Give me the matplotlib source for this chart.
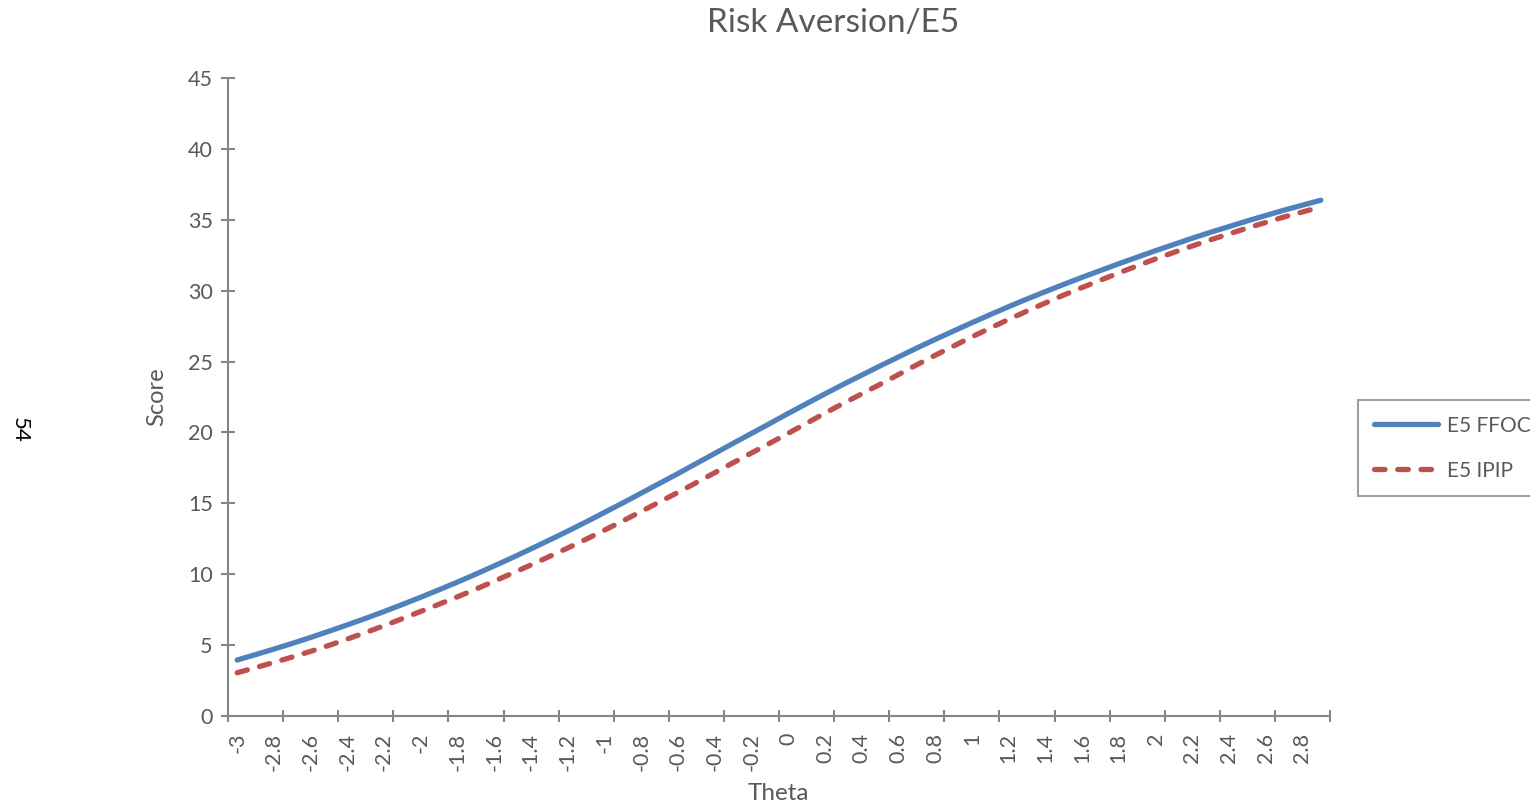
import matplotlib
matplotlib.use("Agg")
import matplotlib.pyplot as plt
import numpy as np

theta = [round(-3 + 0.1 * i, 1) for i in range(60)]
tick_labels = ["-3", "-2.8", "-2.6", "-2.4", "-2.2", "-2", "-1.8", "-1.6", "-1.4", "-1.2",
               "-1", "-0.8", "-0.6", "-0.4", "-0.2", "0", "0.2", "0.4", "0.6", "0.8",
               "1", "1.2", "1.4", "1.6", "1.8", "2", "2.2", "2.4", "2.6", "2.8"]

e5_ffoci = [3.95, 4.33, 4.72, 5.12, 5.54, 5.98, 6.43, 6.89, 7.37, 7.87,
            8.38, 8.91, 9.45, 10.01, 10.59, 11.18, 11.79, 12.41, 13.04, 13.69,
            14.36, 15.03, 15.72, 16.41, 17.10, 17.81, 18.52, 19.23, 19.93, 20.63,
            21.34, 22.03, 22.72, 23.39, 24.04, 24.69, 25.32, 25.95, 26.56, 27.15,
            27.74, 28.31, 28.87, 29.41, 29.93, 30.44, 30.94, 31.42, 31.90, 32.36,
            32.82, 33.26, 33.70, 34.12, 34.52, 34.92, 35.30, 35.68, 36.03, 36.38]

e5_ipip = [3.05, 3.41, 3.78, 4.16, 4.56, 4.98, 5.43, 5.89, 6.37, 6.87,
           7.38, 7.89, 8.41, 8.95, 9.51, 10.08, 10.66, 11.25, 11.85, 12.47,
           13.11, 13.76, 14.43, 15.10, 15.77, 16.46, 17.16, 17.86, 18.55, 19.24,
           19.94, 20.65, 21.36, 22.05, 22.72, 23.39, 24.08, 24.77, 25.44, 26.09,
           26.74, 27.36, 27.97, 28.56, 29.13, 29.69, 30.22, 30.74, 31.25, 31.75,
           32.24, 32.70, 33.15, 33.59, 34.00, 34.42, 34.81, 35.20, 35.55, 35.91]

yticks = [0, 5, 10, 15, 20, 25, 30, 35, 40, 45]

plt.rcParams['font.family'] = ['Lato', 'DejaVu Sans']
TXT = '#595959'
AX = '#868686'

fig = plt.figure(figsize=(15.3, 8.09), dpi=100)
ax = fig.add_axes([228/1530, 1-716/809, (1330-228)/1530, (716-78)/809])

idx = np.arange(len(theta))
ax.plot(idx, e5_ffoci, color='#4F81BD', lw=3.8, solid_capstyle='round', label='E5 FFOCI')
ax.plot(idx, e5_ipip, color='#C0504D', lw=3.8, ls=(0, (2.0, 2.4)), dash_capstyle='round', label='E5 IPIP')

ax.set_xlim(-0.5, len(theta) - 0.5)
ax.set_ylim(0, 45)
ax.set_yticks(yticks)
ax.set_yticklabels([str(v) for v in yticks])
ax.set_xticks(idx[::2])
ax.set_xticklabels(tick_labels, rotation=90)
ax.set_xticks(np.arange(-0.5, len(theta), 3), minor=True)

for s in ['top', 'right']:
    ax.spines[s].set_visible(False)
for s in ['left', 'bottom']:
    ax.spines[s].set_color(AX)
    ax.spines[s].set_linewidth(1.5)

ax.tick_params(axis='x', which='major', length=0, pad=12, labelsize=15.5, labelcolor=TXT)
ax.tick_params(axis='x', which='minor', direction='inout', length=9, width=1.5, color=AX)
ax.tick_params(axis='y', which='major', direction='inout', length=10, width=1.5, color=AX,
               pad=6, labelsize=15.5, labelcolor=TXT)

fig.text(778/1530, 1-794/809, 'Theta', ha='center', va='center', fontsize=17.5, color=TXT)
fig.text(157/1530, 1-397/809, 'Score', ha='center', va='center', rotation=90, fontsize=17, color=TXT)
fig.text(833/1530, 1-23/809, 'Risk Aversion/E5', ha='center', va='center', fontsize=24, color=TXT)
fig.text(20/1530, 1-430/809, '54', ha='center', va='center', rotation=-90, fontsize=16, color='black')

leg = fig.legend(loc='upper left', bbox_to_anchor=(1358/1530, 1-400/809), frameon=True,
                 fancybox=False, edgecolor=AX, fontsize=15, handlelength=3.1,
                 labelcolor=TXT, borderpad=0.75, labelspacing=1.2, handletextpad=0.4,
                 borderaxespad=0)
leg.get_frame().set_linewidth(1.5)

fig.savefig('out.png', dpi=100)
